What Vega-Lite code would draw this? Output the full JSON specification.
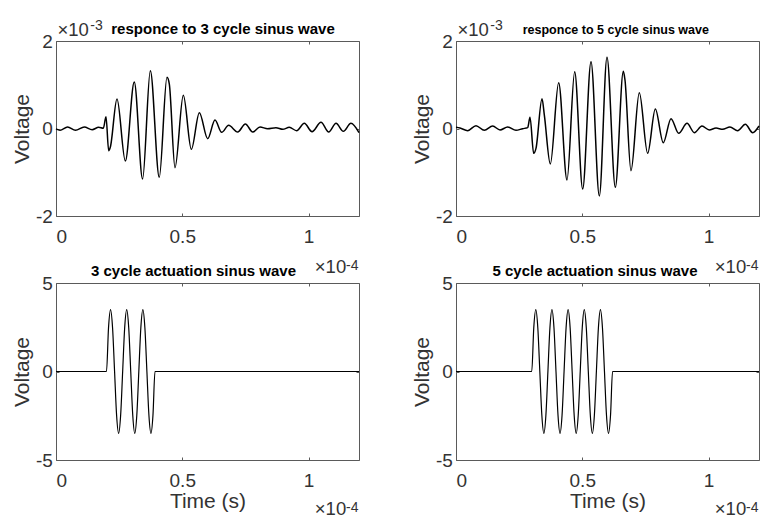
{
  "$schema": "https://vega.github.io/schema/vega-lite/v6.json",
  "background": "white",
  "padding": {"left": 10, "top": 18, "right": 0, "bottom": 0},
  "bounds": "flush",
  "columns": 2,
  "spacing": {"row": 67, "column": 97},
  "config": {
    "view": {"stroke": "#5a5a5a", "strokeWidth": 1},
    "axis": {
      "grid": false,
      "domain": false,
      "tickSize": -3,
      "tickColor": "#5a5a5a",
      "labelFont": "Liberation Sans",
      "labelFontSize": 19,
      "labelColor": "#333333",
      "titleFont": "Liberation Sans",
      "titleFontSize": 21,
      "titleFontWeight": "normal",
      "titleColor": "#333333"
    },
    "axisBottom": {"labelPadding": 14, "titlePadding": 0.5},
    "axisLeft": {"labelPadding": 6.7, "titlePadding": 3}
  },
  "datasets": {
    "r3": [
      {"t": 0, "v": -0.01}, {"t": 0.016, "v": -0.04}, {"t": 0.046, "v": 0.034}, {"t": 0.077, "v": -0.042},
      {"t": 0.112, "v": 0.034}, {"t": 0.143, "v": -0.027}, {"t": 0.169, "v": 0.027}, {"t": 0.1875, "v": 0.004},
      {"t": 0.198, "v": 0.27}, {"t": 0.2086, "v": -0.507}, {"t": 0.215, "v": -0.43}, {"t": 0.2416, "v": 0.674},
      {"t": 0.2746, "v": -0.743}, {"t": 0.31, "v": 1.063}, {"t": 0.343, "v": -1.154}, {"t": 0.3736, "v": 1.322},
      {"t": 0.409, "v": -1.116}, {"t": 0.4396, "v": 1.17}, {"t": 0.4488, "v": 1.017}, {"t": 0.4713, "v": -0.895},
      {"t": 0.5043, "v": 0.758}, {"t": 0.536, "v": -0.476}, {"t": 0.5677, "v": 0.362}, {"t": 0.6007, "v": -0.232},
      {"t": 0.6297, "v": 0.194}, {"t": 0.656, "v": -0.088}, {"t": 0.6838, "v": 0.072}, {"t": 0.7195, "v": -0.08},
      {"t": 0.75, "v": 0.103}, {"t": 0.779, "v": -0.08}, {"t": 0.808, "v": 0.034}, {"t": 0.838, "v": -0.004},
      {"t": 0.871, "v": 0.019}, {"t": 0.898, "v": -0.019}, {"t": 0.924, "v": 0.027}, {"t": 0.953, "v": -0.05},
      {"t": 0.9835, "v": 0.118}, {"t": 1.014, "v": -0.072}, {"t": 1.0495, "v": 0.141}, {"t": 1.08, "v": -0.08},
      {"t": 1.109, "v": 0.118}, {"t": 1.138, "v": -0.065}, {"t": 1.168, "v": 0.118}, {"t": 1.2, "v": -0.095}
    ],
    "r5": [
      {"t": 0, "v": 0.027}, {"t": 0.0158, "v": 0.011}, {"t": 0.0462, "v": -0.05}, {"t": 0.0792, "v": 0.065},
      {"t": 0.1122, "v": -0.042}, {"t": 0.1452, "v": 0.057}, {"t": 0.1743, "v": -0.034}, {"t": 0.2046, "v": 0.034},
      {"t": 0.2376, "v": -0.042}, {"t": 0.264, "v": -0.004}, {"t": 0.2838, "v": 0.019}, {"t": 0.2931, "v": 0.255},
      {"t": 0.3076, "v": -0.568}, {"t": 0.3168, "v": -0.453}, {"t": 0.3406, "v": 0.682}, {"t": 0.35, "v": 0.3},
      {"t": 0.3736, "v": -0.811}, {"t": 0.4066, "v": 1.048}, {"t": 0.4396, "v": -1.177}, {"t": 0.47, "v": 1.299},
      {"t": 0.5017, "v": -1.383}, {"t": 0.5347, "v": 1.528}, {"t": 0.5677, "v": -1.543}, {"t": 0.598, "v": 1.627},
      {"t": 0.631, "v": -1.345}, {"t": 0.6627, "v": 1.306}, {"t": 0.669, "v": 1.12}, {"t": 0.693, "v": -0.964},
      {"t": 0.726, "v": 0.819}, {"t": 0.759, "v": -0.568}, {"t": 0.7894, "v": 0.446}, {"t": 0.821, "v": -0.324},
      {"t": 0.8515, "v": 0.225}, {"t": 0.882, "v": -0.11}, {"t": 0.915, "v": 0.118}, {"t": 0.944, "v": -0.095},
      {"t": 0.974, "v": 0.057}, {"t": 1.003, "v": -0.034}, {"t": 1.03, "v": 0.011}, {"t": 1.056, "v": -0.019},
      {"t": 1.085, "v": 0.034}, {"t": 1.1155, "v": -0.05}, {"t": 1.146, "v": 0.095}, {"t": 1.175, "v": -0.095},
      {"t": 1.2, "v": 0.057}
    ],
    "a3": [
      {"t": 0, "v": 0}, {"t": 0.2, "v": 0},
      {"t": 0.208, "v": 2.475}, {"t": 0.216, "v": 3.5}, {"t": 0.224, "v": 2.475}, {"t": 0.232, "v": 0},
      {"t": 0.24, "v": -2.475}, {"t": 0.248, "v": -3.5}, {"t": 0.256, "v": -2.475}, {"t": 0.264, "v": 0},
      {"t": 0.272, "v": 2.475}, {"t": 0.28, "v": 3.5}, {"t": 0.288, "v": 2.475}, {"t": 0.296, "v": 0},
      {"t": 0.304, "v": -2.475}, {"t": 0.312, "v": -3.5}, {"t": 0.32, "v": -2.475}, {"t": 0.328, "v": 0},
      {"t": 0.336, "v": 2.475}, {"t": 0.344, "v": 3.5}, {"t": 0.352, "v": 2.475}, {"t": 0.36, "v": 0},
      {"t": 0.368, "v": -2.475}, {"t": 0.376, "v": -3.5}, {"t": 0.384, "v": -2.475}, {"t": 0.392, "v": 0},
      {"t": 1.2, "v": 0}
    ],
    "a5": [
      {"t": 0, "v": 0}, {"t": 0.3, "v": 0},
      {"t": 0.308, "v": 2.475}, {"t": 0.316, "v": 3.5}, {"t": 0.324, "v": 2.475}, {"t": 0.332, "v": 0},
      {"t": 0.34, "v": -2.475}, {"t": 0.348, "v": -3.5}, {"t": 0.356, "v": -2.475}, {"t": 0.364, "v": 0},
      {"t": 0.372, "v": 2.475}, {"t": 0.38, "v": 3.5}, {"t": 0.388, "v": 2.475}, {"t": 0.396, "v": 0},
      {"t": 0.404, "v": -2.475}, {"t": 0.412, "v": -3.5}, {"t": 0.42, "v": -2.475}, {"t": 0.428, "v": 0},
      {"t": 0.436, "v": 2.475}, {"t": 0.444, "v": 3.5}, {"t": 0.452, "v": 2.475}, {"t": 0.46, "v": 0},
      {"t": 0.468, "v": -2.475}, {"t": 0.476, "v": -3.5}, {"t": 0.484, "v": -2.475}, {"t": 0.492, "v": 0},
      {"t": 0.5, "v": 2.475}, {"t": 0.508, "v": 3.5}, {"t": 0.516, "v": 2.475}, {"t": 0.524, "v": 0},
      {"t": 0.532, "v": -2.475}, {"t": 0.54, "v": -3.5}, {"t": 0.548, "v": -2.475}, {"t": 0.556, "v": 0},
      {"t": 0.564, "v": 2.475}, {"t": 0.572, "v": 3.5}, {"t": 0.58, "v": 2.475}, {"t": 0.588, "v": 0},
      {"t": 0.596, "v": -2.475}, {"t": 0.604, "v": -3.5}, {"t": 0.612, "v": -2.475}, {"t": 0.62, "v": 0},
      {"t": 1.2, "v": 0}
    ]
  },
  "concat": [
    {
      "width": 303, "height": 175,
      "resolve": {"axis": {"x": "independent", "y": "independent"}},
      "layer": [
        {"data": {"name": "r3"}, "mark": {"type": "line", "interpolate": "monotone", "color": "black", "strokeWidth": 1.5},
         "encoding": {
           "x": {"field": "t", "type": "quantitative", "scale": {"domain": [0, 1.2], "nice": false, "zero": false}, "axis": {"orient": "bottom", "values": [0, 0.5, 1], "labelExpr": "datum.value", "title": null}},
           "y": {"field": "v", "type": "quantitative", "scale": {"domain": [-2, 2], "nice": false}, "axis": {"orient": "left", "values": [-2, 0, 2], "labelExpr": "datum.value", "title": "Voltage"}}}},
        {"data": {"name": "r3"}, "mark": {"type": "point", "opacity": 0},
         "encoding": {
           "x": {"field": "t", "type": "quantitative", "axis": {"orient": "top", "values": [0, 0.5, 1], "labels": false, "title": null}},
           "y": {"field": "v", "type": "quantitative", "axis": {"orient": "right", "values": [-2, 0, 2], "labels": false, "title": null}}}},
        {"data": {"values": [{}]}, "mark": {"type": "text", "text": "responce to 3 cycle sinus wave", "font": "Liberation Sans", "fontWeight": "bold", "fontSize": 15, "color": "black", "align": "center", "baseline": "alphabetic", "dx": 15.5, "dy": -7.5},
         "encoding": {"x": {"datum": 0.6, "type": "quantitative", "axis": null}, "y": {"datum": 2, "type": "quantitative", "axis": null}}},
        {"data": {"values": [{}]}, "mark": {"type": "text", "text": "×10", "font": "Liberation Sans", "fontSize": 18.5, "color": "#333333", "align": "left", "baseline": "alphabetic", "dx": 1.5, "dy": -5},
         "encoding": {"x": {"datum": 0, "type": "quantitative", "axis": null}, "y": {"datum": 2, "type": "quantitative", "axis": null}}},
        {"data": {"values": [{}]}, "mark": {"type": "text", "text": "-3", "font": "Liberation Sans", "fontSize": 14, "color": "#333333", "align": "left", "baseline": "alphabetic", "dx": 34.3, "dy": -11},
         "encoding": {"x": {"datum": 0, "type": "quantitative", "axis": null}, "y": {"datum": 2, "type": "quantitative", "axis": null}}},
        {"data": {"values": [{}]}, "mark": {"type": "text", "text": "×10", "font": "Liberation Sans", "fontSize": 18.5, "color": "#333333", "align": "right", "baseline": "alphabetic", "dx": -12.8, "dy": 57.3},
         "encoding": {"x": {"datum": 1.2, "type": "quantitative", "axis": null}, "y": {"datum": -2, "type": "quantitative", "axis": null}}},
        {"data": {"values": [{}]}, "mark": {"type": "text", "text": "-4", "font": "Liberation Sans", "fontSize": 14, "color": "#333333", "align": "right", "baseline": "alphabetic", "dx": -0.5, "dy": 54},
         "encoding": {"x": {"datum": 1.2, "type": "quantitative", "axis": null}, "y": {"datum": -2, "type": "quantitative", "axis": null}}}
      ]
    },
    {
      "width": 303, "height": 175,
      "resolve": {"axis": {"x": "independent", "y": "independent"}},
      "layer": [
        {"data": {"name": "r5"}, "mark": {"type": "line", "interpolate": "monotone", "color": "black", "strokeWidth": 1.5},
         "encoding": {
           "x": {"field": "t", "type": "quantitative", "scale": {"domain": [0, 1.2], "nice": false, "zero": false}, "axis": {"orient": "bottom", "values": [0, 0.5, 1], "labelExpr": "datum.value", "title": null}},
           "y": {"field": "v", "type": "quantitative", "scale": {"domain": [-2, 2], "nice": false}, "axis": {"orient": "left", "values": [-2, 0, 2], "labelExpr": "datum.value", "title": "Voltage"}}}},
        {"data": {"name": "r5"}, "mark": {"type": "point", "opacity": 0},
         "encoding": {
           "x": {"field": "t", "type": "quantitative", "axis": {"orient": "top", "values": [0, 0.5, 1], "labels": false, "title": null}},
           "y": {"field": "v", "type": "quantitative", "axis": {"orient": "right", "values": [-2, 0, 2], "labels": false, "title": null}}}},
        {"data": {"values": [{}]}, "mark": {"type": "text", "text": "responce to 5 cycle sinus wave", "font": "Liberation Sans", "fontWeight": "bold", "fontSize": 12.5, "color": "black", "align": "center", "baseline": "alphabetic", "dx": 8.3, "dy": -7},
         "encoding": {"x": {"datum": 0.6, "type": "quantitative", "axis": null}, "y": {"datum": 2, "type": "quantitative", "axis": null}}},
        {"data": {"values": [{}]}, "mark": {"type": "text", "text": "×10", "font": "Liberation Sans", "fontSize": 18.5, "color": "#333333", "align": "left", "baseline": "alphabetic", "dx": 1.5, "dy": -5},
         "encoding": {"x": {"datum": 0, "type": "quantitative", "axis": null}, "y": {"datum": 2, "type": "quantitative", "axis": null}}},
        {"data": {"values": [{}]}, "mark": {"type": "text", "text": "-3", "font": "Liberation Sans", "fontSize": 14, "color": "#333333", "align": "left", "baseline": "alphabetic", "dx": 34.3, "dy": -11},
         "encoding": {"x": {"datum": 0, "type": "quantitative", "axis": null}, "y": {"datum": 2, "type": "quantitative", "axis": null}}},
        {"data": {"values": [{}]}, "mark": {"type": "text", "text": "×10", "font": "Liberation Sans", "fontSize": 18.5, "color": "#333333", "align": "right", "baseline": "alphabetic", "dx": -12.8, "dy": 57.3},
         "encoding": {"x": {"datum": 1.2, "type": "quantitative", "axis": null}, "y": {"datum": -2, "type": "quantitative", "axis": null}}},
        {"data": {"values": [{}]}, "mark": {"type": "text", "text": "-4", "font": "Liberation Sans", "fontSize": 14, "color": "#333333", "align": "right", "baseline": "alphabetic", "dx": -0.5, "dy": 54},
         "encoding": {"x": {"datum": 1.2, "type": "quantitative", "axis": null}, "y": {"datum": -2, "type": "quantitative", "axis": null}}}
      ]
    },
    {
      "width": 303, "height": 177,
      "resolve": {"axis": {"x": "independent", "y": "independent"}},
      "layer": [
        {"data": {"name": "a3"}, "mark": {"type": "line", "interpolate": "monotone", "color": "black", "strokeWidth": 1.2},
         "encoding": {
           "x": {"field": "t", "type": "quantitative", "scale": {"domain": [0, 1.2], "nice": false, "zero": false}, "axis": {"orient": "bottom", "values": [0, 0.5, 1], "labelExpr": "datum.value", "title": "Time (s)"}},
           "y": {"field": "v", "type": "quantitative", "scale": {"domain": [-5, 5], "nice": false}, "axis": {"orient": "left", "values": [-5, 0, 5], "labelExpr": "datum.value", "title": "Voltage"}}}},
        {"data": {"name": "a3"}, "mark": {"type": "point", "opacity": 0},
         "encoding": {
           "x": {"field": "t", "type": "quantitative", "axis": {"orient": "top", "values": [0, 0.5, 1], "labels": false, "title": null}},
           "y": {"field": "v", "type": "quantitative", "axis": {"orient": "right", "values": [-5, 0, 5], "labels": false, "title": null}}}},
        {"data": {"values": [{}]}, "mark": {"type": "text", "text": "3 cycle actuation sinus wave", "font": "Liberation Sans", "fontWeight": "bold", "fontSize": 15, "color": "black", "align": "center", "baseline": "alphabetic", "dx": -14, "dy": -6.7},
         "encoding": {"x": {"datum": 0.6, "type": "quantitative", "axis": null}, "y": {"datum": 5, "type": "quantitative", "axis": null}}},
        {"data": {"values": [{}]}, "mark": {"type": "text", "text": "×10", "font": "Liberation Sans", "fontSize": 18.5, "color": "#333333", "align": "right", "baseline": "alphabetic", "dx": -12.8, "dy": 55},
         "encoding": {"x": {"datum": 1.2, "type": "quantitative", "axis": null}, "y": {"datum": -5, "type": "quantitative", "axis": null}}},
        {"data": {"values": [{}]}, "mark": {"type": "text", "text": "-4", "font": "Liberation Sans", "fontSize": 14, "color": "#333333", "align": "right", "baseline": "alphabetic", "dx": -0.5, "dy": 51.7},
         "encoding": {"x": {"datum": 1.2, "type": "quantitative", "axis": null}, "y": {"datum": -5, "type": "quantitative", "axis": null}}}
      ]
    },
    {
      "width": 303, "height": 177,
      "resolve": {"axis": {"x": "independent", "y": "independent"}},
      "layer": [
        {"data": {"name": "a5"}, "mark": {"type": "line", "interpolate": "monotone", "color": "black", "strokeWidth": 1.2},
         "encoding": {
           "x": {"field": "t", "type": "quantitative", "scale": {"domain": [0, 1.2], "nice": false, "zero": false}, "axis": {"orient": "bottom", "values": [0, 0.5, 1], "labelExpr": "datum.value", "title": "Time (s)"}},
           "y": {"field": "v", "type": "quantitative", "scale": {"domain": [-5, 5], "nice": false}, "axis": {"orient": "left", "values": [-5, 0, 5], "labelExpr": "datum.value", "title": "Voltage"}}}},
        {"data": {"name": "a5"}, "mark": {"type": "point", "opacity": 0},
         "encoding": {
           "x": {"field": "t", "type": "quantitative", "axis": {"orient": "top", "values": [0, 0.5, 1], "labels": false, "title": null}},
           "y": {"field": "v", "type": "quantitative", "axis": {"orient": "right", "values": [-5, 0, 5], "labels": false, "title": null}}}},
        {"data": {"values": [{}]}, "mark": {"type": "text", "text": "5 cycle actuation sinus wave", "font": "Liberation Sans", "fontWeight": "bold", "fontSize": 15, "color": "black", "align": "center", "baseline": "alphabetic", "dx": -12.5, "dy": -6.7},
         "encoding": {"x": {"datum": 0.6, "type": "quantitative", "axis": null}, "y": {"datum": 5, "type": "quantitative", "axis": null}}},
        {"data": {"values": [{}]}, "mark": {"type": "text", "text": "×10", "font": "Liberation Sans", "fontSize": 18.5, "color": "#333333", "align": "right", "baseline": "alphabetic", "dx": -12.8, "dy": 55},
         "encoding": {"x": {"datum": 1.2, "type": "quantitative", "axis": null}, "y": {"datum": -5, "type": "quantitative", "axis": null}}},
        {"data": {"values": [{}]}, "mark": {"type": "text", "text": "-4", "font": "Liberation Sans", "fontSize": 14, "color": "#333333", "align": "right", "baseline": "alphabetic", "dx": -0.5, "dy": 51.7},
         "encoding": {"x": {"datum": 1.2, "type": "quantitative", "axis": null}, "y": {"datum": -5, "type": "quantitative", "axis": null}}}
      ]
    }
  ]
}
